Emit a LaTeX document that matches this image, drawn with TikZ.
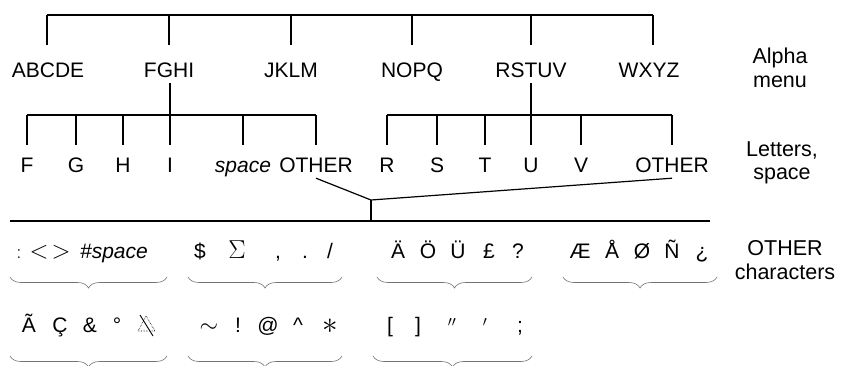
\documentclass[tikz,border=0pt]{standalone}
\usepackage{graphicx}
\usepackage{fontspec}
\setmainfont{Liberation Sans}
\usetikzlibrary{decorations.pathreplacing}
\newcommand\msym[2][1.2]{\scalebox{#1}{$#2$}}
\begin{document}
\begin{tikzpicture}[x=1pt,y=-1pt,
  lbl/.style={inner sep=0pt,text height=15pt,text depth=0pt,font=\fontsize{21}{24}\selectfont},
  sym/.style={inner sep=0pt,anchor=base,font=\fontsize{21}{24}\selectfont},
  side/.style={inner sep=0pt,align=center,font=\fontsize{21.5}{23.5}\selectfont},
  ln/.style={draw=black,line width=1.2pt},
  brc/.style={draw=black!55,line width=0.6pt,decorate,decoration={brace,mirror,amplitude=11pt}}]
\useasboundingbox (0,0) rectangle (842,366);
% top level
\node[lbl] (abcde) at (48,70.5) {ABCDE};
\node[lbl] (fghi) at (169,70.5) {FGHI};
\node[lbl] (jklm) at (291,70.5) {JKLM};
\node[lbl] (nopq) at (412,70.5) {NOPQ};
\node[lbl] (rstuv) at (531,70.5) {RSTUV};
\node[lbl] (wxyz) at (649,70.5) {WXYZ};
\coordinate (topbar) at (0,15);
\draw[ln] ([xshift=-1pt]abcde.north |- topbar) -- ([xshift=4pt]wxyz.north |- topbar);
\draw[ln] ([xshift=-1pt]abcde.north |- topbar) -- ([xshift=-1pt,yshift=18pt]abcde.north);
\foreach \n in {fghi,jklm,nopq,rstuv}
  \draw[ln] (\n.north |- topbar) -- ([yshift=18pt]\n.north);
\draw[ln] ([xshift=4pt]wxyz.north |- topbar) -- ([xshift=4pt,yshift=18pt]wxyz.north);
% second level left
\node[lbl] (f) at (27,164.5) {F};
\node[lbl] (g) at (76,164.5) {G};
\node[lbl] (h) at (123,164.5) {H};
\node[lbl] (i) at (170,164.5) {I};
\node[lbl] (sp) at (243,164.5) {\itshape space};
\node[lbl] (lother) at (316,164.5) {OTHER};
\coordinate (bar2) at (0,115);
\draw[ln] ([xshift=1pt,yshift=-5pt]fghi.south) -- ([xshift=1pt]fghi.south |- bar2);
\draw[ln] (f.north |- bar2) -- (lother.north |- bar2);
\foreach \n in {f,g,h,i,sp,lother}
  \draw[ln] (\n.north |- bar2) -- ([yshift=12pt]\n.north);
% second level right
\node[lbl] (r) at (387,164.5) {R};
\node[lbl] (s) at (437,164.5) {S};
\node[lbl] (t) at (485,164.5) {T};
\node[lbl] (u) at (531,164.5) {U};
\node[lbl] (v) at (581,164.5) {V};
\node[lbl] (rother) at (672,164.5) {OTHER};
\draw[ln] ([yshift=-5pt]rstuv.south) -- (rstuv.south |- bar2);
\draw[ln] (r.north |- bar2) -- (rother.north |- bar2);
\foreach \n in {r,s,t,u,v,rother}
  \draw[ln] (\n.north |- bar2) -- ([yshift=12pt]\n.north);
% join to other characters
\coordinate (join) at (371,200);
\coordinate (hl) at (10,221);
\coordinate (hr) at (710,221);
\draw[ln] ([yshift=-6pt]lother.south) -- (join) -- ([yshift=-6pt]rother.south);
\draw[ln] (join) -- (join |- hl);
\draw[ln] (hl) -- (hr);
% side labels
\node[side] (alpha) at (780,68) {Alpha\\menu};
\node[side] (letters) at (782,163) {Letters,\\space};
\node[side] (otherc) at (785,260) {OTHER\\characters};
% row 1 of other characters
\node[sym] (o1a) at (19,258) {$:$};
\node[sym] (o1b) at (39,258) {\msym{<}};
\node[sym] (o1c) at (61,258) {\msym{>}};
\node[sym] (o1d) at (114,258) {\itshape\#space};
\node[sym] (o2a) at (200,258) {\$};
\node[sym] (o2b) at (237,258) {\msym[1.25]{\Sigma}};
\node[sym] (o2c) at (278,258) {,};
\node[sym] (o2d) at (305,258) {.};
\node[sym] (o2e) at (330,258) {/};
\node[sym] (o3a) at (398,258) {Ä};
\node[sym] (o3b) at (428,258) {Ö};
\node[sym] (o3c) at (458,258) {Ü};
\node[sym] (o3d) at (489,258) {£};
\node[sym] (o3e) at (518,258) {?};
\node[sym] (o4a) at (580,258) {Æ};
\node[sym] (o4b) at (612,258) {Å};
\node[sym] (o4c) at (642,258) {Ø};
\node[sym] (o4d) at (672,258) {Ñ};
\node[sym] (o4e) at (702,258) {¿};
% row 2
\node[sym] (p1a) at (29,332) {Ã};
\node[sym] (p1b) at (60,332) {Ç};
\node[sym] (p1c) at (90,332) {\&};
\node[sym] (p1d) at (117,332) {°};
\draw[black,line width=0.6pt,densely dotted] (138,331) -- (155,331) -- (146,316) -- cycle;
\draw[black,line width=0.9pt] (140,315) -- (153,336);
\node[sym] (p2a) at (209,332) {\msym[1.15]{\sim}};
\node[sym] (p2b) at (238,332) {!};
\node[sym] (p2c) at (268,332) {@};
\node[sym] (p2d) at (298,332) {\textasciicircum};
\node[sym] (p2e) at (330,333) {\msym[1.5]{\ast}};
\node[sym] (p3a) at (390,332) {[};
\node[sym] (p3b) at (418,332) {]};
\node[sym] (p3c) at (452,334) {$''$};
\node[sym] (p3d) at (485,334) {$'$};
\node[sym] (p3e) at (520,332) {;};
% braces
\draw[brc] (10,277) -- (167,277);
\draw[brc] (188,277) -- (342,277);
\draw[brc] (377,277) -- (532,277);
\draw[brc] (563,277) -- (717,277);
\draw[brc] (10,356) -- (167,356);
\draw[brc] (188,356) -- (342,356);
\draw[brc] (373,356) -- (532,356);
\end{tikzpicture}
\end{document}
